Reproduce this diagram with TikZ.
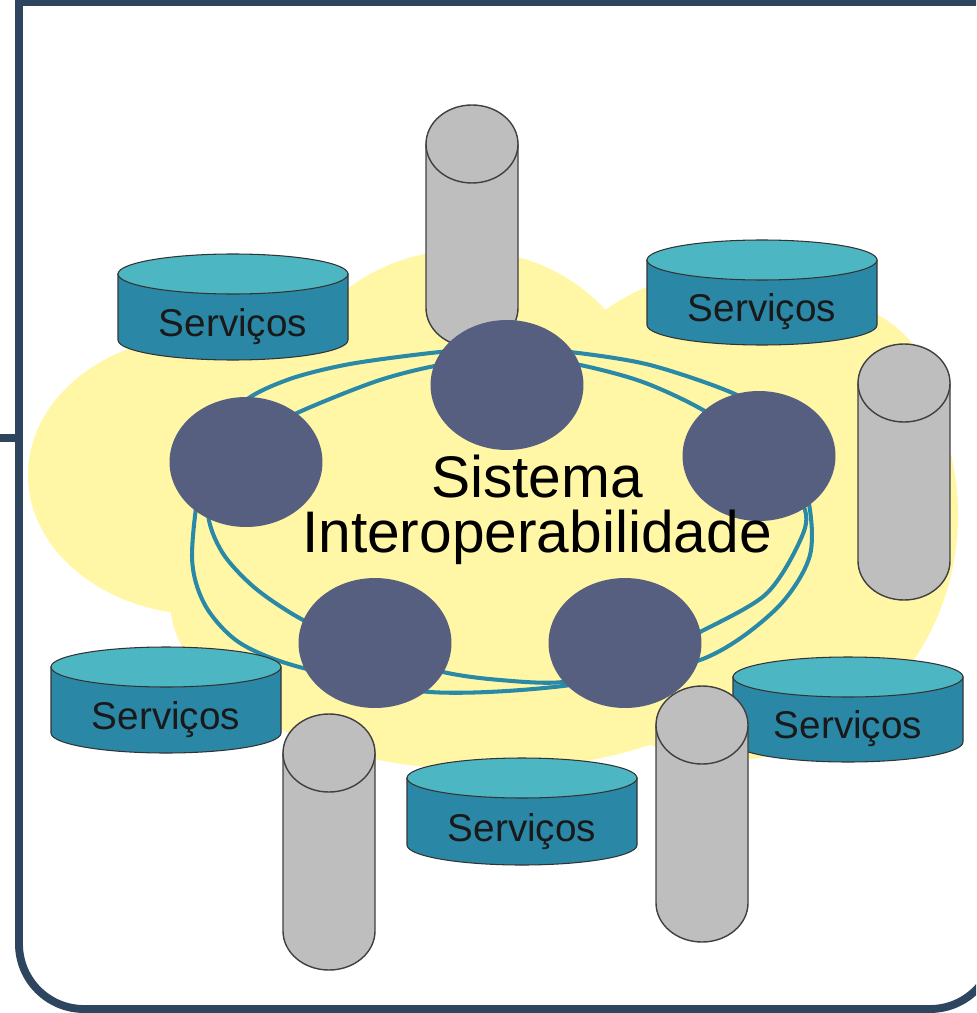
\documentclass[tikz,border=0pt]{standalone}
\usepackage{fontspec}
\setmainfont{Liberation Sans}
\usepackage{xcolor}
\usepackage{tikz}
\usetikzlibrary{shapes.geometric}
\definecolor{framenavy}{HTML}{2E4560}
\definecolor{cloudyellow}{HTML}{FFF7A6}
\definecolor{hubblue}{HTML}{575F81}
\definecolor{ringteal}{HTML}{2A89A7}
\definecolor{servtop}{HTML}{4DB6C3}
\definecolor{servside}{HTML}{2B87A6}
\definecolor{dbgray}{HTML}{BEBEBE}
\tikzset{
  frame line/.style={draw=framenavy, line width=4.5pt},
  blob/.style={fill=cloudyellow},
  hub/.style={ellipse, fill=hubblue, inner sep=0pt, minimum width=3.06cm, minimum height=2.6cm},
  ring/.style={draw=ringteal, line width=2.3pt},
  servbody/.style={fill=servside, draw=black!80, line width=0.6pt},
  servlid/.style={fill=servtop, draw=black!80, line width=0.6pt},
  graybody/.style={fill=dbgray, draw=black!75, line width=0.8pt},
  servlabel/.style={font=\fontsize{22}{26}\selectfont, text=black!90, inner sep=0pt}
}
% #1 name, #2 centre x, #3 lid y, #4 bottom y
\newcommand{\servdb}[4]{%
  \filldraw[servbody] (#2-115,#3) -- (#2-115,#4) arc[start angle=180, end angle=0, x radius=115, y radius=20] -- (#2+115,#3) -- cycle;
  \filldraw[servlid] (#2,#3) ellipse [x radius=115, y radius=20];
  \node[servlabel, anchor=base] (#1) at (#2,#4-4) {Serviços};
}
\newcommand{\graydb}[4]{%
  \coordinate (#1) at (#2,#3);
  \filldraw[graybody] (#2-46,#3) -- (#2-46,#4) arc[start angle=180, end angle=0, x radius=46, y radius=39] -- (#2+46,#3) -- cycle;
  \filldraw[graybody] (#2,#3) ellipse [x radius=46, y radius=39];
}
\begin{document}
\begin{tikzpicture}[x=0.02cm, y=-0.02cm]
\useasboundingbox (0,0) rectangle (976,1013);
\clip (0,0) rectangle (976,1013);

\draw[frame line] (1000,2) -- (19,2) -- (19,500);
\draw[frame line, rounded corners=1.3cm] (19,480) -- (19,1009) -- (995,1009) -- (995,900);
\draw[frame line] (0,438) -- (19,438);

% cloud
\fill[blob] (205,475) ellipse [x radius=177, y radius=140];
\fill[blob] (465,410) ellipse [x radius=180, y radius=160];
\fill[blob] (730,515) ellipse [x radius=228, y radius=245];
\fill[blob] (820,420) ellipse [x radius=120, y radius=120];
\fill[blob] (485,600) ellipse [x radius=315, y radius=170];

\graydb{dbtop}{472}{144}{308}
\graydb{dbright}{904}{383}{561}

\draw[ring] plot[smooth cycle] coordinates {(192,555) (205,605) (240,643) (303,668) (430,692) (563,686) (700,660) (775,610) (810,555) (806,490) (775,425) (737,395) (650,365) (570,352) (505,348) (440,352) (350,364) (287,380) (240,405) (205,460)};
\draw[ring] plot[smooth cycle] coordinates {(297,413) (377,381) (440,365) (507,357) (570,363) (640,381) (703,410) (770,455) (805,510) (798,545) (765,595) (700,632) (630,665) (563,682) (500,680) (443,672) (370,650) (303,620) (255,588) (222,552) (208,510) (225,450)};

\node[hub] (hubtop) at (507,385) {};
\node[hub] (hubleft) at (246,462) {};
\node[hub] (hubright) at (759,456) {};
\node[hub] (hubbl) at (375,643) {};
\node[hub] (hubbr) at (625,643) {};

\node[font=\fontsize{33.4}{31}\selectfont, align=center, inner sep=0pt] (title) at (537,510) {Sistema\\Interoperabilidade};

\servdb{serv1}{233}{274}{340}
\servdb{serv2}{762}{260}{325}
\servdb{serv3}{166}{667}{733}
\servdb{serv4}{848}{677}{742}
\servdb{serv5}{522}{778}{845}
\graydb{dbbl}{329}{753}{931}
\graydb{dbbr}{702}{725}{903}
\end{tikzpicture}
\end{document}
